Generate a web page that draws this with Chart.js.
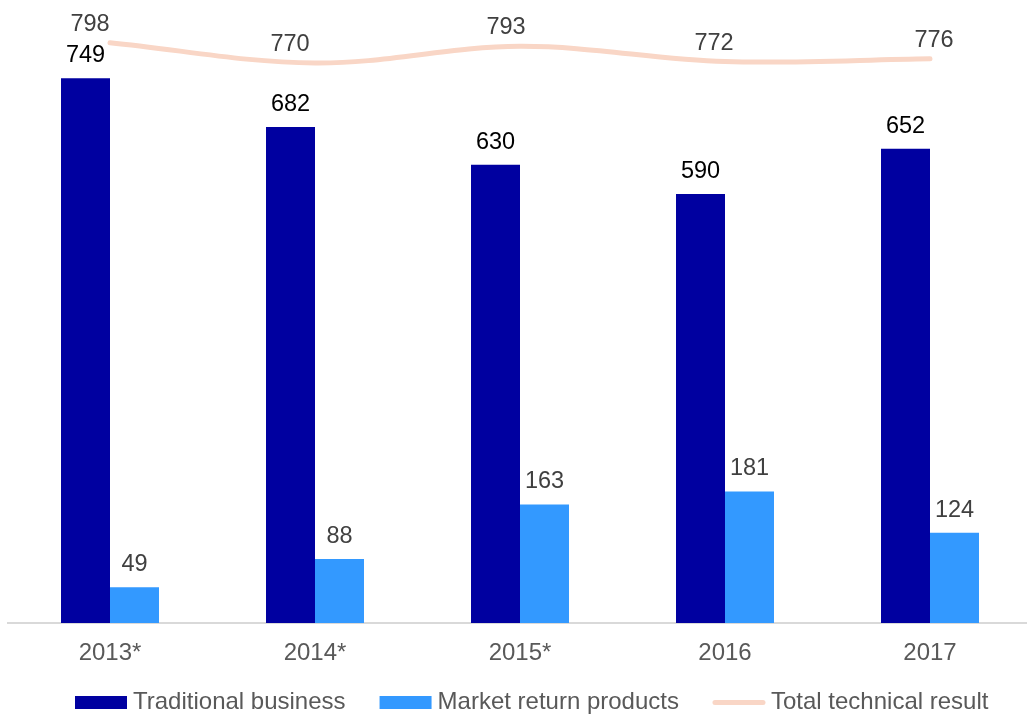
<!DOCTYPE html>
<html>
<head>
<meta charset="utf-8">
<title>Technical result by business type</title>
<style>
  html, body { margin: 0; padding: 0; background: #fff; overflow: hidden; }
  #wrap { position: relative; width: 1040px; height: 714px; }
  canvas { display: block; }
</style>
<script src="https://cdn.jsdelivr.net/npm/chart.js@4/dist/chart.umd.min.js"></script>
</head>
<body>
<div id="wrap"><canvas id="chart" width="1040" height="714"></canvas></div>
<script>
// Values per year
const years = ['2013*', '2014*', '2015*', '2016', '2017'];
const traditionalBusiness = [749, 682, 630, 590, 652];
const marketReturnProducts = [49, 88, 163, 181, 124];
const totalTechnicalResult = [798, 770, 793, 772, 776];
const seriesNames = ['Traditional business', 'Market return products', 'Total technical result'];

// Styling
const FONT = '"Liberation Sans", Arial, Helvetica, sans-serif';
const C_TRAD = '#0000A0';
const C_MARKET = '#3399FF';
const C_TOTAL = '#F9D6C6';
// small horizontal nudges for the total labels so they sit clear of the curve
const totalLabelShift = [-20, -25, -14, -11, 4];

const valueLabels = {
  id: 'valueLabels',
  afterDatasetsDraw(chart) {
    const ctx = chart.ctx;
    ctx.save();
    ctx.font = '23.5px ' + FONT;
    ctx.textAlign = 'center';
    ctx.textBaseline = 'alphabetic';
    // bar labels
    [0, 1].forEach(di => {
      const meta = chart.getDatasetMeta(di);
      const data = chart.data.datasets[di].data;
      ctx.fillStyle = di === 0 ? '#000000' : '#404040';
      meta.data.forEach((el, i) => {
        ctx.fillText(String(data[i]), el.x, el.y - 16);
      });
    });
    // line labels
    const lm = chart.getDatasetMeta(2);
    const ld = chart.data.datasets[2].data;
    ctx.fillStyle = '#404040';
    lm.data.forEach((pt, i) => {
      ctx.fillText(String(ld[i]), pt.x + totalLabelShift[i], pt.y - 12);
    });
    ctx.restore();
  }
};

const bottomLegend = {
  id: 'bottomLegend',
  afterDraw(chart) {
    const ctx = chart.ctx;
    ctx.save();
    ctx.font = '24px ' + FONT;
    ctx.textBaseline = 'alphabetic';
    ctx.textAlign = 'left';
    const swatchW = 52, swatchH = 13, gapText = 6, gapItem = 34;
    const baseline = 709;
    let x = 75;
    seriesNames.forEach((name, i) => {
      if (i < 2) {
        ctx.fillStyle = i === 0 ? C_TRAD : C_MARKET;
        ctx.fillRect(x, 696, swatchW, swatchH);
      } else {
        ctx.strokeStyle = C_TOTAL;
        ctx.lineWidth = 5;
        ctx.lineCap = 'round';
        ctx.beginPath();
        ctx.moveTo(x + 2, 702.5);
        ctx.lineTo(x + swatchW - 2, 702.5);
        ctx.stroke();
      }
      x += swatchW + gapText;
      ctx.fillStyle = '#595959';
      ctx.fillText(name, x, baseline);
      x += ctx.measureText(name).width + gapItem;
    });
    ctx.restore();
  }
};

new Chart(document.getElementById('chart'), {
  data: {
    labels: years,
    datasets: [
      {
        type: 'bar', label: seriesNames[0], data: traditionalBusiness,
        backgroundColor: C_TRAD, borderWidth: 0, order: 2,
        categoryPercentage: 0.478, barPercentage: 1.0
      },
      {
        type: 'bar', label: seriesNames[1], data: marketReturnProducts,
        backgroundColor: C_MARKET, borderWidth: 0, order: 2,
        categoryPercentage: 0.478, barPercentage: 1.0
      },
      {
        type: 'line', label: seriesNames[2], data: totalTechnicalResult,
        borderColor: C_TOTAL, borderWidth: 5, borderCapStyle: 'round',
        borderJoinStyle: 'round', tension: 0.35, pointRadius: 0,
        pointHoverRadius: 0, fill: false, order: 1
      }
    ]
  },
  options: {
    responsive: false,
    animation: false,
    events: [],
    layout: { padding: { left: 7.5, right: 7.5, top: 0, bottom: 51 } },
    plugins: { legend: { display: false }, tooltip: { enabled: false }, title: { display: false } },
    scales: {
      x: {
        offset: true,
        grid: { display: false, drawTicks: false },
        border: { display: true, color: '#D9D9D9', width: 2 },
        ticks: { color: '#595959', font: { family: FONT, size: 24 }, padding: 16, maxRotation: 0 },
        afterFit(scale) { scale.height = 40; }
      },
      y: {
        display: false,
        min: 0,
        max: 856.7
      }
    }
  },
  plugins: [valueLabels, bottomLegend]
});
</script>
</body>
</html>
